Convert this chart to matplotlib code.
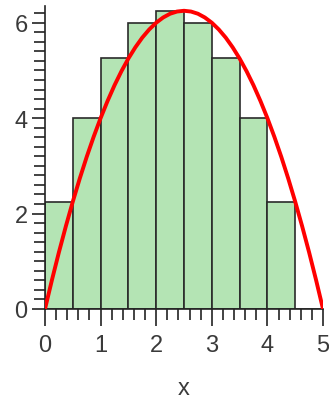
import matplotlib.pyplot as plt
from matplotlib.ticker import MultipleLocator

# right-endpoint boxes, width 0.5
bar_left = [0.0, 0.5, 1.0, 1.5, 2.0, 2.5, 3.0, 3.5, 4.0, 4.5]
bar_height = [2.25, 4.0, 5.25, 6.0, 6.25, 6.0, 5.25, 4.0, 2.25, 0.0]
bar_width = 0.5

curve_x = [0.0, 0.125, 0.25, 0.375, 0.5, 0.625, 0.75, 0.875, 1.0, 1.125,
           1.25, 1.375, 1.5, 1.625, 1.75, 1.875, 2.0, 2.125, 2.25, 2.375,
           2.5, 2.625, 2.75, 2.875, 3.0, 3.125, 3.25, 3.375, 3.5, 3.625,
           3.75, 3.875, 4.0, 4.125, 4.25, 4.375, 4.5, 4.625, 4.75, 4.875, 5.0]
curve_y = [0.0, 0.609, 1.188, 1.734, 2.25, 2.734, 3.188, 3.609, 4.0, 4.359,
           4.688, 4.984, 5.25, 5.484, 5.688, 5.859, 6.0, 6.109, 6.188, 6.234,
           6.25, 6.234, 6.188, 6.109, 6.0, 5.859, 5.688, 5.484, 5.25, 4.984,
           4.688, 4.359, 4.0, 3.609, 3.188, 2.734, 2.25, 1.734, 1.188, 0.609, 0.0]

plt.rcParams['font.family'] = ['Liberation Sans', 'DejaVu Sans']

fig = plt.figure(figsize=(3.29, 4.02), dpi=100)
# x: 0 -> px 45, 5 -> px 323 ; y: 0 -> px 310, top of axis px 7
ax = fig.add_axes([45/329, 92/402, 278/329, 303/402])

ax.bar(bar_left, bar_height, width=bar_width, align='edge',
       color='#b4e4b4', edgecolor='#2a2a2a', linewidth=1.2, zorder=2)
ax.plot(curve_x, curve_y, color='#ff0000', linewidth=2.8, zorder=3,
        solid_capstyle='round')

ax.set_xlim(0, 5)
ax.set_ylim(0, 6.35)

for s in ['top', 'right']:
    ax.spines[s].set_visible(False)
for s in ['left', 'bottom']:
    ax.spines[s].set_linewidth(1.2)
    ax.spines[s].set_color('#222222')

ax.xaxis.set_major_locator(MultipleLocator(1))
ax.xaxis.set_minor_locator(MultipleLocator(0.2))
ax.yaxis.set_major_locator(MultipleLocator(2))
ax.yaxis.set_minor_locator(MultipleLocator(0.2))

lab = '#3a3a3a'
ax.tick_params(axis='x', which='major', direction='out', length=12, width=1.2,
               color='#222222', labelsize=17, pad=6, labelcolor=lab)
ax.tick_params(axis='x', which='minor', direction='out', length=8, width=1.2,
               color='#222222')
ax.tick_params(axis='y', which='major', direction='out', length=9.5, width=1.2,
               color='#222222', labelsize=17, pad=3, labelcolor=lab)
ax.tick_params(axis='y', which='minor', direction='out', length=8, width=1.2,
               color='#222222')

ax.set_xlabel('x', fontsize=17, color=lab, labelpad=15)

fig.savefig('out.png', dpi=100)
